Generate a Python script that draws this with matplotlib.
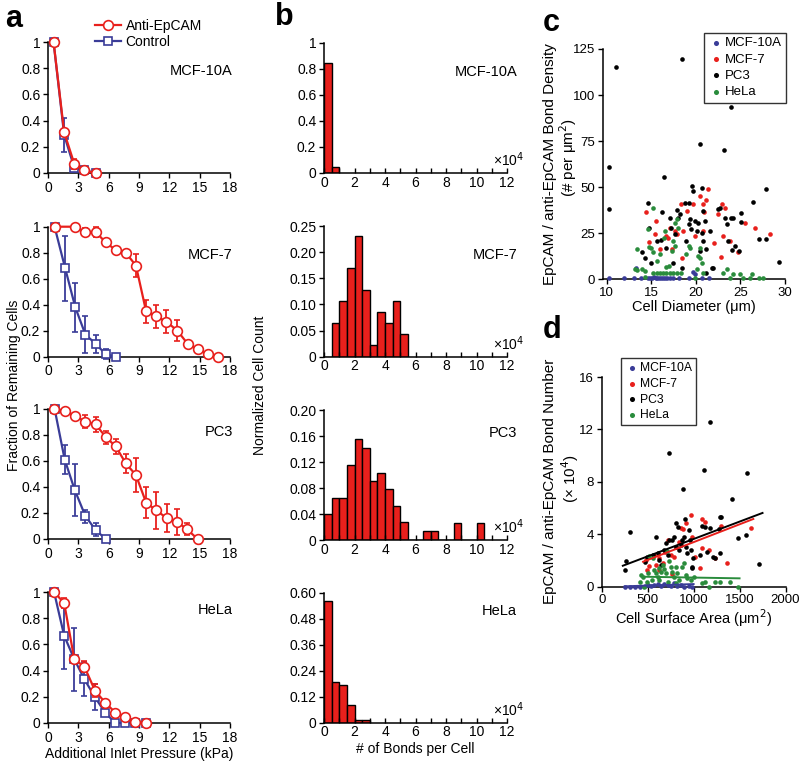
import numpy as np
import matplotlib
matplotlib.use("Agg")
import matplotlib.pyplot as plt

plt.rcParams['font.family'] = ['Liberation Sans', 'DejaVu Sans']
plt.rcParams['font.size'] = 10
plt.rcParams['axes.linewidth'] = 1.1

RED = '#e8201c'
BLUE = '#3a3c98'
GREEN = '#2a8c3c'

# ---- panel a: fraction of remaining cells vs pressure ----
cells = ['MCF-10A', 'MCF-7', 'PC3', 'HeLa']

anti_x = [
    [0.55, 1.6, 2.6, 3.6, 4.7],
    [0.65, 2.65, 3.7, 4.7, 5.7, 6.7, 7.7, 8.7, 9.7, 10.7, 11.7, 12.8, 13.8, 14.8, 15.8, 16.8],
    [0.55, 1.65, 2.65, 3.7, 4.7, 5.75, 6.7, 7.7, 8.7, 9.7, 10.7, 11.75, 12.8, 13.75, 14.8],
    [0.6, 1.6, 2.6, 3.6, 4.65, 5.65, 6.65, 7.65, 8.65, 9.65],
]
anti_y = [
    [1, 0.31, 0.07, 0.02, 0.0],
    [1, 1, 0.96, 0.96, 0.88, 0.82, 0.80, 0.70, 0.35, 0.31, 0.27, 0.20, 0.10, 0.06, 0.02, 0.0],
    [1, 0.985, 0.946, 0.90, 0.88, 0.78, 0.71, 0.58, 0.49, 0.28, 0.22, 0.16, 0.13, 0.074, 0.0],
    [1, 0.916, 0.487, 0.43, 0.247, 0.156, 0.08, 0.043, 0.01, 0.0],
]
anti_err = [
    [0, 0.02, 0.04, 0, 0],
    [0, 0, 0.03, 0.04, 0, 0, 0.02, 0.09, 0.09, 0.09, 0.09, 0.08, 0, 0, 0, 0],
    [0, 0, 0.02, 0.05, 0.06, 0.05, 0.06, 0.07, 0.13, 0.12, 0.14, 0.11, 0.10, 0.045, 0],
    [0, 0.04, 0, 0.04, 0.05, 0, 0, 0, 0, 0],
]
ctrl_x = [
    [0.55, 1.6, 2.6, 3.6, 4.7],
    [0.65, 1.7, 2.7, 3.7, 4.7, 5.7, 6.7],
    [0.65, 1.65, 2.65, 3.7, 4.7, 5.7],
    [0.6, 1.6, 2.6, 3.6, 4.65, 5.65, 6.65, 7.65, 8.65, 9.65],
]
ctrl_y = [
    [1, 0.29, 0.04, 0.02, 0.0],
    [1, 0.68, 0.38, 0.17, 0.10, 0.02, 0.0],
    [1, 0.61, 0.375, 0.176, 0.07, 0.0],
    [1, 0.666, 0.487, 0.334, 0.196, 0.08, 0, 0, 0, 0],
]
ctrl_err = [
    [0, 0.13, 0.03, 0, 0],
    [0, 0.25, 0.19, 0.14, 0.07, 0.04, 0],
    [0, 0.11, 0.20, 0.05, 0.05, 0],
    [0, 0.25, 0.24, 0.13, 0.10, 0.03, 0, 0, 0, 0],
]

# ---- panel b: histograms of bonds per cell (x10^4), bin width 0.5 ----
bin_width = 0.5
hist_heights = [
    [0.85, 0.05],
    [0, 0.065, 0.106, 0.169, 0.231, 0.128, 0.022, 0.086, 0.065, 0.106, 0.044],
    [0.04, 0.065, 0.065, 0.116, 0.155, 0.141, 0.091, 0.103, 0.078, 0.053, 0.027,
     0, 0, 0.0135, 0.0135, 0, 0, 0.026, 0, 0, 0.026],
    [0.563, 0.186, 0.174, 0.0815, 0.012, 0.012],
]
hist_ymax = [1.0, 0.25, 0.20, 0.60]
hist_yticks = [
    ['0', '0.2', '0.4', '0.6', '0.8', '1'],
    ['0', '0.05', '0.10', '0.15', '0.20', '0.25'],
    ['0', '0.04', '0.08', '0.12', '0.16', '0.20'],
    ['0', '0.12', '0.24', '0.36', '0.48', '0.60'],
]

# ---- panel c: bond density vs cell diameter ----
c_mcf10a_x = [10.3, 11.9, 13.1, 13.3, 13.9, 14.6, 14.9, 15.1, 15.3, 15.5, 15.7, 15.9, 16.1,
              16.3, 16.5, 16.8, 17.1, 17.5, 18.1, 19.2, 19.7, 19.9, 20.7, 21.5]
c_mcf10a_y = [0.5, 0.5, 0.5, 6.0, 0.5, 0.5, 1.0, 0.5, 1.5, 0.5, 0.8, 0.5, 1.0,
              0.5, 0.7, 0.5, 0.5, 0.5, 0.5, 0.5, 4.0, 2.8, 0.5, 0.5]
c_mcf7_x = [14.4, 14.7, 15.5, 15.4, 16.0, 16.7, 16.9, 17.1, 17.7, 17.9, 18.3, 18.4, 18.6, 19.0,
            19.7, 19.9, 20.5, 20.8, 20.9, 20.8, 21.4, 21.2, 22.0, 22.5, 22.9, 23.3, 22.8, 23.0,
            23.8, 24.7, 25.5, 26.6, 28.3, 17.3]
c_mcf7_y = [36.3, 20.5, 31.7, 24.5, 16.4, 23.6, 22.7, 28.1, 26.3, 24.5, 41.1, 11.8, 26.3, 37.1,
            41.1, 23.6, 45.3, 40.8, 36.3, 26.3, 48.9, 42.9, 20.0, 35.3, 41.1, 38.6, 12.2, 23.6,
            20.9, 15.1, 30.8, 28.1, 24.5, 16.4]
c_pc3_x = [11.1, 18.5, 23.9, 10.3, 10.3, 20.5, 23.2, 16.4, 27.9, 26.4,
           14.6, 14.7, 14.0, 14.3, 16.2, 16.1, 17.1, 17.2, 17.7, 17.9, 18.0, 18.2, 18.8, 19.2,
           18.9, 19.2, 19.3, 19.6, 19.7, 19.5, 19.9, 20.1, 20.3, 20.7, 20.8, 20.7, 20.8, 20.5,
           21.0, 21.2, 21.6, 21.8, 21.9, 22.5, 22.7, 23.3, 23.5, 23.6, 24.0, 24.2, 24.1, 24.4,
           25.1, 25.1, 24.8, 27.1, 27.9, 29.3, 15.6, 15.0, 16.7, 17.5, 18.4, 21.2]
c_pc3_y = [115.4, 119.6, 93.7, 60.8, 38.2, 73.3, 70.1, 55.7, 48.9, 41.8,
           41.3, 28.1, 15.1, 11.8, 36.3, 21.4, 33.5, 28.1, 24.5, 37.7, 33.5, 35.3, 41.7, 41.7,
           20.9, 29.9, 32.6, 50.7, 47.9, 27.2, 31.7, 26.3, 30.8, 49.8, 37.1, 25.4, 20.9, 15.5,
           31.7, 16.4, 26.3, 6.4, 6.4, 38.1, 38.9, 33.5, 29.9, 20.9, 33.2, 33.2, 16.0, 18.2,
           31.4, 35.9, 15.5, 21.8, 21.8, 9.5, 20.9, 9.1, 17.3, 9.1, 6.4, 3.7]
c_hela_x = [13.4, 13.2, 13.4, 14.0, 14.3, 14.6, 15.2, 14.8, 15.0, 15.2, 15.6, 16.0, 16.4, 16.5,
            16.7, 17.0, 17.3, 17.5, 17.7, 17.9, 18.0, 17.7, 15.2, 15.6, 16.0, 16.3, 16.7, 17.1,
            17.5, 17.9, 18.3, 19.2, 19.3, 18.9, 20.3, 20.5, 20.1, 20.5, 20.7, 20.8, 23.1, 23.5,
            24.2, 25.0, 26.3, 27.1, 14.3, 19.9, 23.8, 25.3, 26.1, 27.5]
c_hela_y = [16.4, 5.5, 5.0, 5.5, 4.6, 27.2, 39.0, 17.6, 17.3, 15.1, 10.0, 13.7, 22.7, 26.3,
            6.8, 7.3, 15.5, 20.9, 30.8, 32.6, 28.1, 18.2, 3.7, 3.7, 3.7, 3.7, 3.7, 3.7,
            3.7, 3.7, 3.7, 18.2, 16.9, 13.7, 12.8, 11.8, 5.5, 17.3, 8.7, 3.7, 3.7, 5.5,
            3.2, 3.2, 3.2, 1.0, 1.4, 1.0, 1.0, 0.8, 0.8, 0.6]

# ---- panel d: bond number (x10^4) vs cell surface area ----
d_mcf10a_x = [251, 305, 358, 412, 466, 502, 537, 573, 609, 645, 681, 717, 752, 788, 824, 860,
              896, 950, 978]
d_mcf10a_y = [0, 0, 0, 0, 0.05, 0.13, 0.08, 0.13, 0.18, 0.05, 0.2, 0.13, 0.05, 0.25, 0.08,
              0.13, 0, 0.05, 0]
d_mcf7_x = [477, 520, 491, 573, 591, 627, 663, 717, 752, 770, 788, 806, 842, 860, 885, 921,
            967, 985, 1014, 1075, 1086, 1093, 1129, 1165, 1236, 1301, 1362, 1623, 627, 692]
d_mcf7_y = [2.04, 1.58, 1.27, 2.42, 1.65, 2.16, 1.78, 3.56, 2.42, 0.97, 2.29, 3.05, 3.44, 4.45,
            4.38, 4.83, 5.47, 3.82, 2.29, 1.4, 2.93, 5.14, 4.96, 2.8, 2.16, 4.63, 1.83, 4.45,
            1.27, 2.67]
d_pc3_x = [1182, 734, 1110, 888, 1583, 1415, 1709, 1479, 1569, 1290, 304, 261, 250, 591,
           491, 466, 555, 609, 627, 645, 681, 699, 717, 735, 770, 788, 806, 813, 827, 842,
           860, 878, 896, 906, 914, 932, 950, 960, 975, 978, 996, 985, 1075, 1086, 1129,
           1150, 1182, 1207, 1236, 1297, 1290, 1272]
d_pc3_y = [12.6, 10.2, 8.9, 7.43, 8.65, 6.67, 1.73, 3.69, 3.95, 5.3, 4.15, 1.98, 1.27, 3.82,
           2.29, 1.9, 2.42, 2.54, 2.03, 1.65, 2.8, 3.3, 2.42, 3.56, 3.56, 3.77, 3.05, 4.83,
           4.53, 2.8, 3.18, 3.56, 3.82, 5.17, 3.0, 2.54, 4.33, 3.56, 2.8, 1.53, 2.16, 1.4,
           2.42, 4.63, 4.53, 2.67, 4.45, 2.29, 2.16, 5.29, 2.6, 4.38]
d_hela_x = [430, 448, 520, 502, 555, 573, 591, 609, 627, 645, 663, 681, 699, 706, 735, 752,
            770, 788, 806, 824, 842, 878, 896, 914, 932, 967, 1003, 1093, 1129, 1172, 1236,
            1283, 1397, 1487, 455, 412, 491, 548, 627, 717, 806]
d_hela_y = [0.89, 0.76, 2.34, 1.02, 2.16, 1.27, 1.02, 0.76, 1.4, 1.15, 1.65, 1.32, 1.07, 2.75,
            1.98, 1.53, 1.15, 0.76, 1.53, 1.02, 0.51, 1.53, 1.78, 0.89, 0.64, 0.51, 0.76, 0.31,
            0.38, 0.0, 0.38, 0.38, 0.38, 0.0, 0.0, 0.38, 0.38, 0.51, 0.5, 0.38, 0.25]

# linear fits: slope, intercept, x start, x end
fit_mcf10a = [0.000227, -0.027, 250, 1000]
fit_mcf7 = [0.00272, 0.68, 450, 1650]
fit_pc3 = [0.00265, 0.99, 230, 1750]
fit_hela = [-0.000118, 0.815, 460, 1500]

W, H = 800, 764
fig = plt.figure(figsize=(W / 100, H / 100), dpi=100)


def add_ax(x0, y0, x1, y1):
    return fig.add_axes([x0 / W, 1 - y1 / H, (x1 - x0) / W, (y1 - y0) / H])


def style(ax, size=10):
    ax.spines['top'].set_visible(False)
    ax.spines['right'].set_visible(False)
    ax.tick_params(length=3.5, width=1, labelsize=size, pad=2)


def box_legend(ax, loc, anchor, size):
    leg = ax.legend(loc=loc, bbox_to_anchor=(anchor[0] / W, 1 - anchor[1] / H),
                    bbox_transform=fig.transFigure, fontsize=size, frameon=True,
                    fancybox=False, handletextpad=0.1, labelspacing=0.3, borderpad=0.35,
                    markerscale=1.1, handlelength=1.1)
    leg.get_frame().set_edgecolor('black')
    leg.get_frame().set_linewidth(1)


a_rows = [(42, 173), (226.7, 356.7), (408.7, 539), (592, 723)]
b_rows = [(43, 173), (226, 356.7), (410, 540), (592.7, 722.7)]
name_y = [0.78, 0.78, 0.82, 0.86]

for i, cell in enumerate(cells):
    ax = add_ax(48, a_rows[i][0], 230, a_rows[i][1])
    style(ax)
    hc = ax.errorbar(ctrl_x[i], ctrl_y[i], yerr=ctrl_err[i], color=BLUE, lw=1.6,
                     marker='s', ms=6, mfc='white', mec=BLUE, mew=1.2,
                     capsize=2, elinewidth=1.3, capthick=1.3, clip_on=False, zorder=3)
    ha = ax.errorbar(anti_x[i], anti_y[i], yerr=anti_err[i], color=RED, lw=1.6,
                     marker='o', ms=7, mfc='white', mec=RED, mew=1.2,
                     capsize=2, elinewidth=1.3, capthick=1.3, clip_on=False, zorder=4)
    ax.set_xlim(0, 18)
    ax.set_ylim(0, 1)
    ax.set_xticks(np.arange(0, 19, 3))
    ax.set_yticks([0, 0.2, 0.4, 0.6, 0.8, 1])
    ax.set_yticklabels(['0', '0.2', '0.4', '0.6', '0.8', '1'])
    ax.text(1.015, name_y[i], cell, transform=ax.transAxes, ha='right', va='center',
            fontsize=10.5)
    if i == 0:
        fig.legend([ha[0], hc[0]], ['Anti-EpCAM', 'Control'],
                   loc='upper left', bbox_to_anchor=(88 / W, 1 - 12 / H),
                   frameon=False, fontsize=10, handlelength=1.9, handletextpad=0.3,
                   labelspacing=0.15, borderpad=0)
    if i == 3:
        ax.set_xlabel('Additional Inlet Pressure (kPa)', fontsize=10, labelpad=2)

    bx = add_ax(324, b_rows[i][0], 507, b_rows[i][1])
    style(bx)
    heights = hist_heights[i]
    lefts = np.arange(len(heights)) * bin_width
    bx.bar(lefts, heights, width=bin_width, align='edge', color=RED,
           edgecolor='black', linewidth=1)
    bx.set_xlim(0, 12)
    bx.set_ylim(0, hist_ymax[i])
    bx.set_xticks(np.arange(0, 13, 2))
    bx.set_xticks(np.arange(1, 12, 2), minor=True)
    bx.tick_params(axis='x', which='both', direction='in', length=3.5, width=1)
    bx.set_yticks(np.linspace(0, hist_ymax[i], 6))
    bx.set_yticklabels(hist_yticks[i])
    bx.text(1.055, name_y[i], cell, transform=bx.transAxes,
            ha='right', va='center', fontsize=10.5)
    bx.text(0.925, 0.03, '×10$^4$', transform=bx.transAxes, ha='left', va='bottom',
            fontsize=10)
    if i == 3:
        bx.set_xlabel('# of Bonds per Cell', fontsize=10, labelpad=2)

fig.text(14 / W, 1 - 385 / H, 'Fraction of Remaining Cells', rotation=90,
         ha='center', va='center', fontsize=10)
fig.text(260 / W, 1 - 385 / H, 'Normalized Cell Count', rotation=90,
         ha='center', va='center', fontsize=10)

# ---- panel c ----
cx = add_ax(603, 49, 785, 279.4)
style(cx, 9.5)
sc_kw = dict(s=11, linewidths=0, clip_on=False)
cx.scatter(c_mcf10a_x, c_mcf10a_y, color=BLUE, label='MCF-10A', zorder=3, **sc_kw)
cx.scatter(c_mcf7_x, c_mcf7_y, color=RED, label='MCF-7', zorder=3, **sc_kw)
cx.scatter(c_pc3_x, c_pc3_y, color='black', label='PC3', zorder=3, **sc_kw)
cx.scatter(c_hela_x, c_hela_y, color=GREEN, label='HeLa', zorder=3, **sc_kw)
cx.set_xlim(9.6, 30)
cx.set_ylim(0, 125)
cx.set_xticks([10, 15, 20, 25, 30])
cx.set_yticks([0, 25, 50, 75, 100, 125])
cx.set_xlabel('Cell Diameter (μm)', fontsize=10.5, labelpad=1)
fig.text(550 / W, 1 - 164 / H, 'EpCAM / anti-EpCAM Bond Density', rotation=90,
         ha='center', va='center', fontsize=11)
fig.text(568 / W, 1 - 157 / H, '(# per μm$^2$)', rotation=90,
         ha='center', va='center', fontsize=11)
box_legend(cx, 'upper right', (793, 26), 9.5)

# ---- panel d ----
dx = add_ax(601.7, 377, 785.5, 586.7)
style(dx, 9.5)
dx.scatter(d_mcf10a_x, d_mcf10a_y, color=BLUE, label='MCF-10A', zorder=3, **sc_kw)
dx.scatter(d_mcf7_x, d_mcf7_y, color=RED, label='MCF-7', zorder=3, **sc_kw)
dx.scatter(d_pc3_x, d_pc3_y, color='black', label='PC3', zorder=3, **sc_kw)
dx.scatter(d_hela_x, d_hela_y, color=GREEN, label='HeLa', zorder=3, **sc_kw)
for fit, col in [(fit_mcf10a, BLUE), (fit_hela, GREEN), (fit_pc3, 'black'), (fit_mcf7, RED)]:
    xs = np.array(fit[2:4])
    dx.plot(xs, fit[0] * xs + fit[1], color=col, lw=1.4, zorder=4)
dx.set_xlim(0, 2000)
dx.set_ylim(0, 16)
dx.set_xticks([0, 500, 1000, 1500, 2000])
dx.set_yticks([0, 4, 8, 12, 16])
dx.set_xlabel('Cell Surface Area (μm$^2$)', fontsize=10.5, labelpad=1)
fig.text(550 / W, 1 - 481 / H, 'EpCAM / anti-EpCAM Bond Number', rotation=90,
         ha='center', va='center', fontsize=11)
fig.text(570 / W, 1 - 479 / H, '(× 10$^4$)', rotation=90,
         ha='center', va='center', fontsize=11)
box_legend(dx, 'upper left', (615, 352), 8.7)

# panel letters
for letter, (px, py) in zip('abcd', [(5, 4), (275, 2), (543, 8), (543, 315)]):
    fig.text(px / W, 1 - py / H, letter, fontsize=22, fontweight='bold', ha='left', va='top')

fig.savefig('out.png', dpi=100)
